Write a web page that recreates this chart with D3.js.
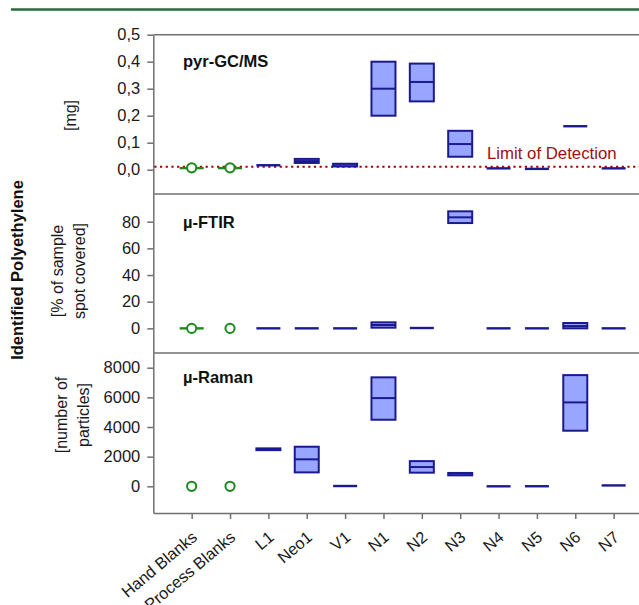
<!DOCTYPE html>
<html><head><meta charset="utf-8">
<script src="https://cdn.jsdelivr.net/npm/d3@7"></script>
<style>
html,body{margin:0;padding:0;background:#fff;}
svg{display:block;font-family:"Liberation Sans",Arial,sans-serif;}
</style></head>
<body>
<script>
// ---------- DATA ----------
const categories = ["Hand Blanks","Process Blanks","L1","Neo1","V1","N1","N2","N3","N4","N5","N6","N7"];

// pyr-GC/MS [mg]
const gcQ1  = [0.004,0.004,0.016,0.025,0.012,0.200,0.253,0.048,0.005,0.003,0.161,0.005];
const gcMed = [0.006,0.006,0.017,0.032,0.017,0.300,0.325,0.095,0.005,0.003,0.161,0.005];
const gcQ3  = [0.008,0.008,0.017,0.040,0.022,0.400,0.393,0.144,0.005,0.003,0.161,0.005];
const gcBlankPoint = [0.007,0.007];
const gcLOD = 0.011;

// µ-FTIR [% of sample spot covered]
const ftQ1  = [0,null,0,0,0,0.5,0,79,0,0,0,0];
const ftMed = [0,null,0,0,0,2.5,0.2,83.3,0,0,1.7,0];
const ftQ3  = [0,null,0,0,0,4.5,0.5,87.8,0,0,4,0];
const ftBlankPoint = [0,0];

// µ-Raman [number of particles]
const raQ1  = [null,null,2440,940,0,4490,920,740,0,0,3750,60];
const raMed = [null,null,2500,1820,20,5950,1300,820,0,10,5660,60];
const raQ3  = [null,null,2560,2670,40,7350,1700,900,0,10,7500,60];
const raBlankPoint = [0,0];

const gcTicks = [0,0.1,0.2,0.3,0.4,0.5];
const ftTicks = [0,20,40,60,80];
const raTicks = [0,2000,4000,6000,8000];

// ---------- LAYOUT ----------
const W = 639, H = 605;
const axisX = 153.3, rightX = 639;
const svg = d3.select("body").append("svg").attr("width",W).attr("height",H);

const x = d3.scalePoint().domain(categories).range([axisX, 652]).padding(1);
const boxW = 24;

const navy = "#1a1a8e", fillC = "#99a6ff", green = "#1b8a1b", grey = "#707070";

// top green rule
svg.append("line").attr("x1",11).attr("x2",W).attr("y1",9.5).attr("y2",9.5)
  .attr("stroke","#2b6a3e").attr("stroke-width",2.5);

const panels = [
  {top:34.7, bottom:194, domain:[-0.09,0.5], ticks:gcTicks, fmt:d=>d3.format(".1f")(d).replace(".",","),
   q1:gcQ1, med:gcMed, q3:gcQ3, blank:gcBlankPoint, blankLine:[true,true], title:"pyr-GC/MS", titleY:66.5,
   unit:["[mg]"], unitY:115.5, unitX:[76]},
  {top:194, bottom:353, domain:[-18.5,100.8], ticks:ftTicks, fmt:d3.format("d"),
   q1:ftQ1, med:ftMed, q3:ftQ3, blank:ftBlankPoint, blankLine:[true,false], title:"µ-FTIR", titleY:227.5,
   unit:["[% of sample","spot covered]"], unitY:271, unitX:[63,84.5]},
  {top:353, bottom:513, domain:[-1800,8992], ticks:raTicks, fmt:d3.format("d"),
   q1:raQ1, med:raMed, q3:raQ3, blank:raBlankPoint, blankLine:[false,false], title:"µ-Raman", titleY:382.5,
   unit:["[number of","particles]"], unitY:415, unitX:[67,88.5]}
];

function drawBox(cx, yTop, yBot, yMed, stroke, fill, darkFill){
  const h = yBot - yTop;
  if(h < 1.5){
    svg.append("line").attr("x1",cx-boxW/2).attr("x2",cx+boxW/2)
      .attr("y1",(yTop+yBot)/2).attr("y2",(yTop+yBot)/2)
      .attr("stroke",stroke).attr("stroke-width",2.4);
    return;
  }
  svg.append("rect").attr("x",cx-boxW/2).attr("y",yTop).attr("width",boxW).attr("height",h)
    .attr("fill",h>4?fill:darkFill).attr("stroke",stroke).attr("stroke-width",2);
  if(h>4 && yMed!==null){
    svg.append("line").attr("x1",cx-boxW/2).attr("x2",cx+boxW/2).attr("y1",yMed).attr("y2",yMed)
      .attr("stroke",stroke).attr("stroke-width",2);
  }
}

panels.forEach((p,pi)=>{
  const y = d3.scaleLinear().domain(p.domain).range([p.bottom,p.top]);
  const ax = svg.append("g").attr("transform",`translate(${axisX},0)`)
    .call(d3.axisLeft(y).tickValues(p.ticks).tickFormat(p.fmt).tickSize(6).tickSizeOuter(0).tickPadding(7));
  ax.select(".domain").attr("stroke",grey).attr("stroke-width",1.5);
  ax.selectAll(".tick line").attr("stroke",grey).attr("stroke-width",1.5);
  ax.selectAll(".tick text").attr("font-size",16.5).attr("fill","#1a1a1a")
    .attr("font-family","'Liberation Sans',Arial,sans-serif");

  svg.append("line").attr("x1",axisX).attr("x2",rightX).attr("y1",p.top).attr("y2",p.top)
    .attr("stroke",grey).attr("stroke-width",1.5);

  svg.append("text").attr("x",183).attr("y",p.titleY).attr("font-size",16.5).attr("font-weight","bold")
    .attr("fill","#111").text(p.title);

  p.unit.forEach((u,i)=>{
    svg.append("text").attr("transform",`translate(${p.unitX[i]},${p.unitY}) rotate(-90)`)
      .attr("text-anchor","middle").attr("font-size",16).attr("fill","#1a1a1a").text(u);
  });

  if(pi===0){
    svg.append("line").attr("x1",axisX+1).attr("x2",rightX).attr("y1",y(gcLOD)).attr("y2",y(gcLOD))
      .attr("stroke","#a30000").attr("stroke-width",2.2).attr("stroke-dasharray","2.2,3.5");
    svg.append("text").attr("x",487).attr("y",158.5).attr("font-size",16.8).attr("fill","#9b1010")
      .text("Limit of Detection");
  }

  categories.forEach((c,i)=>{
    const q1 = p.q1[i], q3 = p.q3[i], md = p.med[i];
    const cx = x(c);
    if(i<2){
      if(p.blankLine[i] && q1!==null){
        drawBox(cx, y(q3), y(q1), null, green, green, green);
      }
      svg.append("circle").attr("cx",cx).attr("cy",y(p.blank[i])).attr("r",4.6)
        .attr("fill","#fff").attr("stroke",green).attr("stroke-width",2);
      return;
    }
    if(q1===null) return;
    drawBox(cx, y(q3), y(q1), y(md), navy, fillC, "#4a4ad0");
  });

  if(pi===2){
    const bx = svg.append("g").attr("transform",`translate(0,${p.bottom})`)
      .call(d3.axisBottom(x).tickSize(6).tickSizeOuter(0).tickPadding(4));
    bx.select(".domain").attr("stroke",grey).attr("stroke-width",1.5);
    bx.selectAll(".tick line").attr("stroke",grey).attr("stroke-width",1.5);
    bx.selectAll(".tick text").attr("font-size",16.3).attr("fill","#1a1a1a")
      .attr("font-family","'Liberation Sans',Arial,sans-serif")
      .attr("text-anchor","end").attr("dy",0).attr("y",0)
      .attr("transform","translate(6,26) rotate(-40)");
  }
});

svg.append("text").attr("transform","translate(23,270) rotate(-90)").attr("text-anchor","middle")
  .attr("font-size",16.5).attr("font-weight","bold").attr("fill","#111").text("Identified Polyethylene");
</script>
</body></html>
